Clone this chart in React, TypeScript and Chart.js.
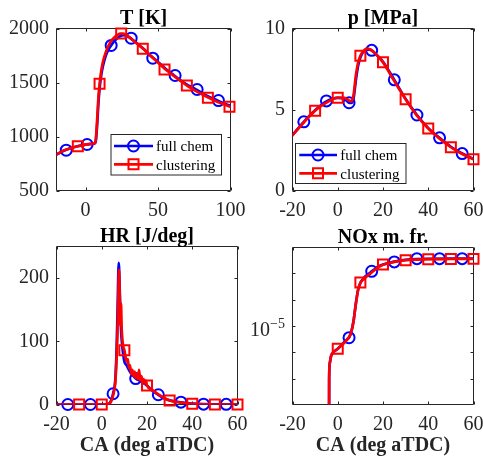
import { useEffect, useRef } from 'react';
import { Chart, registerables } from 'chart.js';

Chart.register(...registerables);

const W = 483;
const H = 459;
const FONT = '"Liberation Serif", "Times New Roman", serif';
const AXIS = '#262626';
const BLUE = '#0000ff';
const RED = '#ff0000';

// ---------------- Panel 1: T [K] ----------------
const tCA = [-20, -15, -10, -5, 0, 3, 6, 7, 8, 9, 10, 11, 12, 14, 16, 18, 20, 22, 24, 26, 28, 30, 35, 40, 45, 50, 55, 60, 65, 70, 75, 80, 85, 90, 95, 100];
const tFull = [833, 868, 893, 912, 925, 930, 933, 950, 1100, 1330, 1480, 1580, 1650, 1750, 1810, 1850, 1885, 1910, 1930, 1938, 1935, 1920, 1868, 1812, 1748, 1690, 1630, 1578, 1525, 1480, 1445, 1405, 1368, 1340, 1308, 1282];
const tClust = [833, 870, 893, 910, 925, 932, 935, 960, 1150, 1380, 1520, 1620, 1690, 1780, 1845, 1890, 1920, 1940, 1953, 1952, 1942, 1922, 1865, 1810, 1745, 1685, 1622, 1570, 1520, 1472, 1430, 1393, 1358, 1327, 1300, 1275];
const tFullMarkCA = [-13.3, 1.1, 17.7, 31.5, 46.4, 61.8, 77, 91.7];
const tFullMark = [873, 926, 1843, 1910, 1725, 1565, 1435, 1333];
const tClustMarkCA = [-5.3, 9.7, 24.6, 39.5, 54.5, 69.9, 84.4, 99.3];
const tClustMark = [910, 1488, 1954, 1812, 1620, 1472, 1358, 1275];
const tXTicks = [0, 50, 100];
const tYTicks = [500, 1000, 1500, 2000];

// ---------------- Panel 2: p [MPa] ----------------
const pCA = [-20, -15, -10, -5, 0, 3, 5, 6, 7, 8, 9, 10, 11, 12, 13, 14, 15, 17, 20, 25, 30, 35, 40, 45, 50, 55, 60];
const pFull = [3.42, 4.24, 4.95, 5.5, 5.72, 5.65, 5.42, 5.4, 5.7, 6.8, 7.7, 8.2, 8.5, 8.65, 8.7, 8.7, 8.65, 8.4, 7.95, 6.83, 5.65, 4.66, 3.85, 3.25, 2.7, 2.28, 1.95];
const pClust = [3.42, 4.2, 4.93, 5.42, 5.73, 5.72, 5.55, 5.5, 5.9, 7.1, 7.9, 8.32, 8.55, 8.7, 8.76, 8.74, 8.65, 8.4, 7.91, 6.75, 5.63, 4.62, 3.83, 3.2, 2.67, 2.25, 1.93];
const pFullMarkCA = [-15, -5, 5, 15, 25, 35, 45, 55];
const pFullMark = [4.24, 5.53, 5.42, 8.65, 6.83, 4.66, 3.25, 2.28];
const pClustMarkCA = [-10, 0, 10, 20, 30, 40, 50, 60];
const pClustMark = [4.93, 5.73, 8.32, 7.91, 5.63, 3.83, 2.67, 1.93];
const pXTicks = [-20, 0, 20, 40, 60];
const pYTicks = [0, 5, 10];

// ---------------- Panel 3: HR [J/deg] ----------------
const hrFullCA = [-20, 0, 3, 4, 5, 6, 6.5, 7, 7.5, 8, 8.5, 9, 10, 11, 12, 13, 14, 15, 16, 18, 20, 22, 25, 28, 30, 35, 40, 45, 50, 60];
const hrFull = [0, 0, 1, 5, 17, 40, 80, 150, 224, 175, 120, 95, 68, 62, 55, 49, 45, 41, 39, 35, 30, 23, 15.4, 9, 6.5, 3.5, 1.5, 0.5, 0.2, 0];
const hrClustCA = [-20, 0, 3, 4, 5, 6, 6.5, 7, 7.3, 7.6, 7.9, 8.2, 8.5, 8.8, 9.2, 9.6, 10, 10.5, 11, 11.5, 12, 12.5, 13, 13.5, 14, 14.5, 15, 15.5, 16, 16.5, 17, 17.5, 18, 18.5, 19, 19.5, 20, 22, 25, 30, 35, 40, 50, 60];
const hrClust = [0, 0, 0.5, 4, 14, 35, 70, 120, 170, 213, 180, 125, 160, 120, 100, 90, 86, 75, 68, 72, 58, 62, 48, 55, 45, 52, 42, 48, 40, 55, 38, 45, 36, 40, 33, 38, 30, 24, 16, 6.4, 3, 1, 0, 0];
const hrFullMarkCA = [-15, -5, 5, 15, 25, 35, 45, 55];
const hrFullMark = [0, 0, 17, 41, 15.4, 3.7, 0.5, 0.2];
const hrClustMarkCA = [-10, 0, 10, 20, 30, 40, 50, 60];
const hrClustMark = [0, 0, 86, 30, 6.4, 1, 0, 0];
const hrXTicks = [-20, 0, 20, 40, 60];
const hrYTicks = [0, 100, 200];

// ---------------- Panel 4: NOx m. fr. (log) ----------------
const noxFullCA = [-4, -3.8, -3.5, -3, -2, 0, 2, 4, 5, 6, 7, 8, 9, 10, 11, 12, 14, 15, 16, 18, 20, 25, 30, 35, 40, 50, 60];
const noxFull = [1e-8, 2.5e-6, 3.8e-6, 4.5e-6, 5e-6, 5.5e-6, 6.2e-6, 7e-6, 7.4e-6, 8.6e-6, 1.15e-5, 1.8e-5, 2.6e-5, 3.1e-5, 3.4e-5, 3.65e-5, 4.0e-5, 4.22e-5, 4.4e-5, 4.8e-5, 5.05e-5, 5.45e-5, 5.7e-5, 5.82e-5, 5.86e-5, 5.88e-5, 5.88e-5];
const noxClustCA = [-4, -3.8, -3.5, -3, -2, 0, 2, 4, 5, 6, 7, 8, 9, 10, 11, 12, 14, 16, 18, 20, 25, 30, 35, 40, 50, 60];
const noxClust = [1e-8, 2.5e-6, 3.8e-6, 4.5e-6, 5e-6, 5.5e-6, 6.1e-6, 6.9e-6, 7.5e-6, 8.6e-6, 1.15e-5, 1.8e-5, 2.6e-5, 3.1e-5, 3.35e-5, 3.55e-5, 3.9e-5, 4.3e-5, 4.7e-5, 5.0e-5, 5.4e-5, 5.65e-5, 5.75e-5, 5.8e-5, 5.83e-5, 5.85e-5];
const noxFullMarkCA = [5, 15, 25, 35, 45, 55];
const noxFullMark = [7.36e-6, 4.22e-5, 5.4e-5, 5.88e-5, 5.88e-5, 5.88e-5];
const noxClustMarkCA = [0, 10, 20, 30, 40, 50, 60];
const noxClustMark = [5.5e-6, 3.14e-5, 5.04e-5, 5.65e-5, 5.8e-5, 5.83e-5, 5.85e-5];
const noxXTicks = [-20, 0, 20, 40, 60];
const noxYTicks = [2.5e-6, 5e-6, 1e-5, 2e-5, 4e-5];
const noxYLabels = ['', '', '10^-5', '', ''];

const legendNames = ['full chem', 'clustering'];

type Series = {
  lineX: number[];
  lineY: number[];
  markX: number[];
  markY: number[];
  color: string;
  style: 'circle' | 'rect';
};

type Legend = { x1: number; y1: number; x2: number; y2: number; rows: number[]; lx1: number; lx2: number; mx: number; tx: number };

type Panel = {
  box: [number, number, number, number];
  xMin: number;
  xMax: number;
  xTicks: number[];
  yType: 'linear' | 'logarithmic';
  yMin: number;
  yMax: number;
  yTicks: number[];
  yLabels?: string[];
  title: string;
  xTitle?: string;
  legend?: Legend;
  series: Series[];
};

const mk = (lineX: number[], lineY: number[], markX: number[], markY: number[], color: string, style: 'circle' | 'rect'): Series => ({ lineX, lineY, markX, markY, color, style });

const PANELS: Panel[] = [
  {
    box: [56.5, 28.5, 230.5, 190.5],
    xMin: -20, xMax: 100, xTicks: tXTicks,
    yType: 'linear', yMin: 500, yMax: 2000, yTicks: tYTicks,
    title: 'T [K]',
    legend: { x1: 111, y1: 134.5, x2: 221.5, y2: 175, rows: [146, 164.3], lx1: 114, lx2: 153, mx: 133.5, tx: 156 },
    series: [mk(tCA, tFull, tFullMarkCA, tFullMark, BLUE, 'circle'), mk(tCA, tClust, tClustMarkCA, tClustMark, RED, 'rect')],
  },
  {
    box: [292.5, 28.5, 473.5, 190.5],
    xMin: -20, xMax: 60, xTicks: pXTicks,
    yType: 'linear', yMin: 0, yMax: 10, yTicks: pYTicks,
    title: 'p [MPa]',
    legend: { x1: 295.5, y1: 143.5, x2: 406, y2: 183.5, rows: [155, 173.3], lx1: 299.3, lx2: 337, mx: 318, tx: 340.3 },
    series: [mk(pCA, pFull, pFullMarkCA, pFullMark, BLUE, 'circle'), mk(pCA, pClust, pClustMarkCA, pClustMark, RED, 'rect')],
  },
  {
    box: [56.5, 246.5, 237.5, 404.5],
    xMin: -20, xMax: 60, xTicks: hrXTicks,
    yType: 'linear', yMin: 0, yMax: 250, yTicks: hrYTicks,
    title: 'HR [J/deg]',
    xTitle: 'CA (deg aTDC)',
    series: [mk(hrFullCA, hrFull, hrFullMarkCA, hrFullMark, BLUE, 'circle'), mk(hrClustCA, hrClust, hrClustMarkCA, hrClustMark, RED, 'rect')],
  },
  {
    box: [292.5, 247.5, 473.5, 404.5],
    xMin: -20, xMax: 60, xTicks: noxXTicks,
    yType: 'logarithmic', yMin: 1.27e-6, yMax: 7.89e-5, yTicks: noxYTicks, yLabels: noxYLabels,
    title: 'NOx m. fr.',
    xTitle: 'CA (deg aTDC)',
    series: [mk(noxFullCA, noxFull, noxFullMarkCA, noxFullMark, BLUE, 'circle'), mk(noxClustCA, noxClust, noxClustMarkCA, noxClustMark, RED, 'rect')],
  },
];

const LINE_W = 2.7;
const TICK = 3;

function drawMarker(ctx: CanvasRenderingContext2D, style: string, x: number, y: number, color: string) {
  ctx.save();
  ctx.strokeStyle = color;
  ctx.lineWidth = 2;
  ctx.beginPath();
  if (style === 'circle') {
    ctx.arc(x, y, 5.5, 0, Math.PI * 2);
  } else {
    ctx.rect(x - 5, y - 5, 10, 10);
  }
  ctx.stroke();
  ctx.restore();
}

function makePlugin(p: Panel) {
  return {
    id: 'matlabAxes',
    beforeDatasetsDraw(chart: any) {
      const ctx: CanvasRenderingContext2D = chart.ctx;
      const a = chart.chartArea;
      const xs = chart.scales.x;
      const ys = chart.scales.y;
      ctx.save();
      ctx.strokeStyle = AXIS;
      ctx.lineWidth = 1;
      ctx.beginPath();
      ctx.rect(a.left, a.top, a.right - a.left, a.bottom - a.top);
      for (const v of p.xTicks) {
        const px = Math.round(xs.getPixelForValue(v)) + 0.5;
        ctx.moveTo(px, a.bottom);
        ctx.lineTo(px, a.bottom - TICK);
        ctx.moveTo(px, a.top);
        ctx.lineTo(px, a.top + TICK);
      }
      for (const v of p.yTicks) {
        const py = Math.round(ys.getPixelForValue(v)) + 0.5;
        ctx.moveTo(a.left, py);
        ctx.lineTo(a.left + TICK, py);
        ctx.moveTo(a.right, py);
        ctx.lineTo(a.right - TICK, py);
      }
      ctx.stroke();

      // tick labels
      ctx.fillStyle = AXIS;
      ctx.font = `20px ${FONT}`;
      ctx.textAlign = 'center';
      ctx.textBaseline = 'alphabetic';
      for (const v of p.xTicks) {
        ctx.fillText(String(v), xs.getPixelForValue(v), a.bottom + 25.5);
      }
      p.yTicks.forEach((v, i) => {
        const lab = p.yLabels ? p.yLabels[i] : String(v);
        if (!lab) return;
        const py = ys.getPixelForValue(v);
        const rx = a.left - 7.5;
        if (lab === '10^-5') {
          ctx.font = `14px ${FONT}`;
          ctx.textAlign = 'right';
          ctx.textBaseline = 'alphabetic';
          const sup = '\u22125';
          const sw = ctx.measureText(sup).width;
          ctx.fillText(sup, rx, py + 1.6);
          ctx.font = `20px ${FONT}`;
          ctx.fillText('10', rx - sw, py + 10.3);
        } else {
          ctx.font = `20px ${FONT}`;
          ctx.textAlign = 'right';
          ctx.textBaseline = 'middle';
          ctx.fillText(lab, rx, py);
        }
      });

      // title
      const cx = (a.left + a.right) / 2;
      ctx.fillStyle = '#000';
      ctx.font = `bold 20px ${FONT}`;
      ctx.textAlign = 'center';
      ctx.textBaseline = 'alphabetic';
      ctx.fillText(p.title, cx, a.top - 4.5);
      if (p.xTitle) {
        ctx.fillStyle = AXIS;
        ctx.fillText(p.xTitle, cx, 451);
      }
      ctx.restore();
    },
    afterDatasetsDraw(chart: any) {
      const lg = p.legend;
      if (!lg) return;
      const ctx: CanvasRenderingContext2D = chart.ctx;
      ctx.save();
      ctx.fillStyle = '#fff';
      ctx.fillRect(lg.x1, lg.y1, lg.x2 - lg.x1, lg.y2 - lg.y1);
      ctx.strokeStyle = AXIS;
      ctx.lineWidth = 1;
      ctx.strokeRect(lg.x1, lg.y1, lg.x2 - lg.x1, lg.y2 - lg.y1);
      p.series.forEach((s, i) => {
        const y = lg.rows[i];
        ctx.strokeStyle = s.color;
        ctx.lineWidth = LINE_W;
        ctx.beginPath();
        ctx.moveTo(lg.lx1, y);
        ctx.lineTo(lg.lx2, y);
        ctx.stroke();
        drawMarker(ctx, s.style, lg.mx, y, s.color);
        ctx.fillStyle = '#000';
        ctx.font = `15px ${FONT}`;
        ctx.textAlign = 'left';
        ctx.textBaseline = 'alphabetic';
        ctx.fillText(legendNames[i], lg.tx, y + 5.3);
      });
      ctx.restore();
    },
  };
}

function buildConfig(p: Panel): any {
  const datasets: any[] = [];
  p.series.forEach((s, i) => {
    const base = (p.series.length - i) * 2;
    datasets.push({
      label: legendNames[i],
      data: s.lineX.map((x, k) => ({ x, y: s.lineY[k] })),
      showLine: true,
      borderColor: s.color,
      borderWidth: LINE_W,
      borderJoinStyle: 'round',
      borderCapStyle: 'round',
      pointRadius: 0,
      pointHoverRadius: 0,
      cubicInterpolationMode: 'monotone',
      fill: false,
      order: base,
    });
    datasets.push({
      label: legendNames[i] + ' markers',
      data: s.markX.map((x, k) => ({ x, y: s.markY[k] })),
      showLine: false,
      pointStyle: s.style,
      pointRadius: s.style === 'circle' ? 5.5 : 7.07,
      pointHoverRadius: s.style === 'circle' ? 5.5 : 7.07,
      pointBorderColor: s.color,
      pointBackgroundColor: 'rgba(0,0,0,0)',
      pointBorderWidth: 2,
      clip: false,
      order: base - 1,
    });
  });
  const [l, t, r, b] = p.box;
  return {
    type: 'scatter',
    data: { datasets },
    options: {
      responsive: false,
      maintainAspectRatio: false,
      animation: false,
      devicePixelRatio: 1,
      events: [],
      layout: { padding: { left: l, top: t, right: W - r, bottom: H - b } },
      plugins: { legend: { display: false }, tooltip: { enabled: false }, title: { display: false } },
      scales: {
        x: { type: 'linear', display: false, min: p.xMin, max: p.xMax, bounds: 'data' },
        y: { type: p.yType, display: false, min: p.yMin, max: p.yMax, bounds: 'data' },
      },
    },
    plugins: [makePlugin(p)],
  };
}

function PanelChart({ p }: { p: Panel }) {
  const ref = useRef<HTMLCanvasElement>(null);
  useEffect(() => {
    if (!ref.current) return;
    const chart = new Chart(ref.current, buildConfig(p));
    return () => chart.destroy();
  }, [p]);
  return (
    <canvas
      ref={ref}
      width={W}
      height={H}
      style={{ position: 'absolute', left: 0, top: 0, width: W, height: H }}
    />
  );
}

export default function App() {
  return (
    <div style={{ position: 'absolute', left: 0, top: 0, width: W, height: H, background: '#fff', overflow: 'hidden' }}>
      {PANELS.map((p, i) => (
        <PanelChart key={i} p={p} />
      ))}
    </div>
  );
}
